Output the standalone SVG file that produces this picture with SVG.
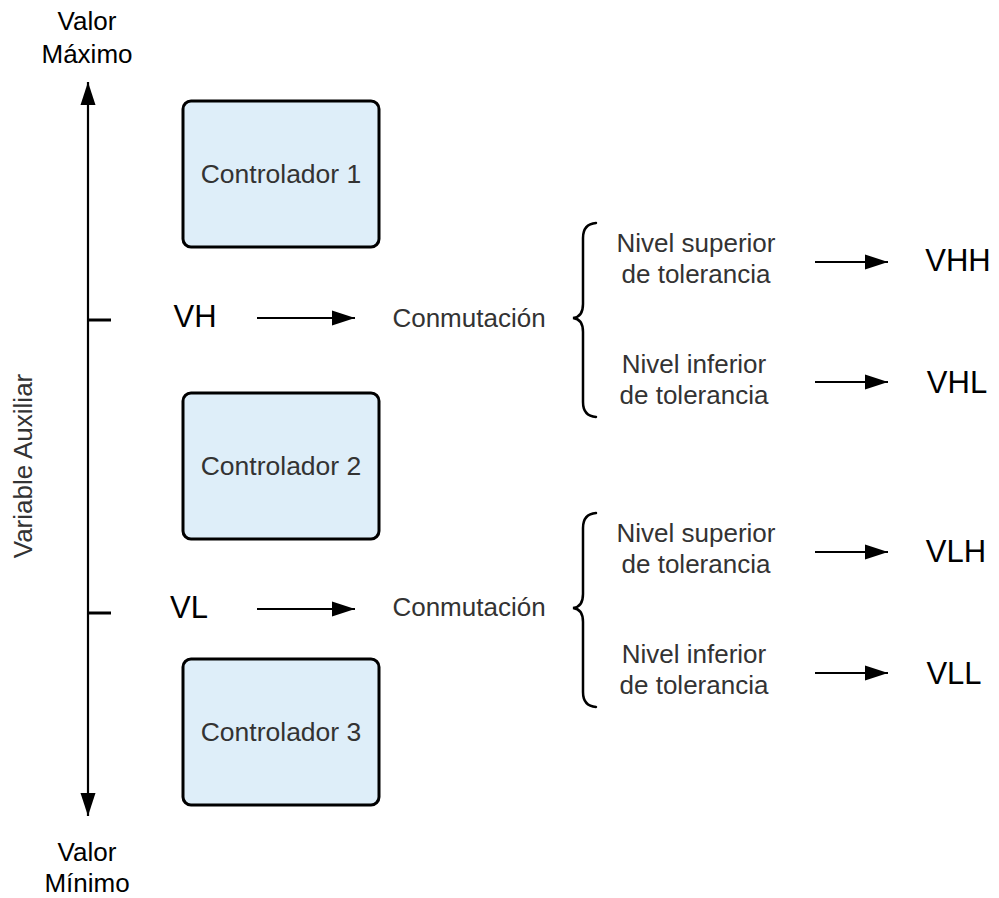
<svg xmlns="http://www.w3.org/2000/svg" width="999" height="898" viewBox="0 0 999 898">
  <style>
    text { font-family: "Liberation Sans", Arial, sans-serif; }
    .ctl { font-size: 26.5px; fill: #333333; text-anchor: middle; }
    .lbl { font-size: 26px; fill: #333333; text-anchor: middle; }
    .var { font-size: 31px; fill: #000000; text-anchor: middle; }
    .end { font-size: 26px; fill: #000000; text-anchor: middle; }
    .box { fill: #deeef9; stroke: #000000; stroke-width: 3; }
    .line { stroke: #000000; stroke-width: 2.2; fill: none; }
    .tick { stroke: #000000; stroke-width: 3; fill: none; }
    .brace { stroke: #000000; stroke-width: 2.5; fill: none; stroke-linecap: round; }
  </style>
  <defs>
    <marker id="head" markerUnits="userSpaceOnUse" markerWidth="23" markerHeight="16" refX="23" refY="8" orient="auto">
      <path d="M0,0.5 L23,8 L0,15.5 Z" fill="#000000"/>
    </marker>
  </defs>
  <rect width="999" height="898" fill="#ffffff"/>

  <!-- axis labels -->
  <g id="axis-labels">
    <text class="end" x="87" y="30">Valor</text>
    <text class="end" x="87" y="63">Máximo</text>
    <text class="end" x="87" y="861">Valor</text>
    <text class="end" x="87" y="892">Mínimo</text>
    <text class="lbl" font-size="27" transform="translate(32,466) rotate(-90)">Variable Auxiliar</text>
  </g>

  <!-- controllers -->
  <g id="controlador-1">
    <rect class="box" x="183" y="101" width="196" height="146" rx="8"/>
    <text class="ctl" x="281" y="183">Controlador 1</text>
  </g>
  <g id="controlador-2">
    <rect class="box" x="183" y="393" width="196" height="146" rx="8"/>
    <text class="ctl" x="281" y="475">Controlador 2</text>
  </g>
  <g id="controlador-3">
    <rect class="box" x="183" y="659" width="196" height="146" rx="8"/>
    <text class="ctl" x="281" y="741">Controlador 3</text>
  </g>

  <!-- switching points -->
  <g id="vh">
    <text class="var" x="195" y="327">VH</text>
  </g>
  <g id="vl">
    <text class="var" x="189" y="618">VL</text>
  </g>
  <g id="conmutacion-h">
    <text class="lbl" x="469" y="327">Conmutación</text>
  </g>
  <g id="conmutacion-l">
    <text class="lbl" x="469" y="616">Conmutación</text>
  </g>

  <!-- tolerance levels -->
  <g id="nivel-sup-h">
    <text class="lbl" x="696" y="252">Nivel superior</text>
    <text class="lbl" x="696" y="283">de tolerancia</text>
  </g>
  <g id="nivel-inf-h">
    <text class="lbl" x="694" y="373">Nivel inferior</text>
    <text class="lbl" x="694" y="404">de tolerancia</text>
  </g>
  <g id="nivel-sup-l">
    <text class="lbl" x="696" y="542">Nivel superior</text>
    <text class="lbl" x="696" y="573">de tolerancia</text>
  </g>
  <g id="nivel-inf-l">
    <text class="lbl" x="694" y="663">Nivel inferior</text>
    <text class="lbl" x="694" y="694">de tolerancia</text>
  </g>

  <!-- resulting values -->
  <g id="vhh"><text class="var" x="958" y="271">VHH</text></g>
  <g id="vhl"><text class="var" x="957" y="393">VHL</text></g>
  <g id="vlh"><text class="var" x="956" y="562">VLH</text></g>
  <g id="vll"><text class="var" x="954" y="684">VLL</text></g>

  <!-- connectors -->
  <g id="connectors">
    <!-- vertical axis, arrows at both ends -->
    <line class="line" x1="88" y1="450" x2="88" y2="82" marker-end="url(#head)"/>
    <line class="line" x1="88" y1="450" x2="88" y2="816" marker-end="url(#head)"/>
    <!-- ticks -->
    <line class="tick" x1="88" y1="320" x2="111" y2="320"/>
    <line class="tick" x1="88" y1="613" x2="111" y2="613"/>
    <!-- threshold to switching -->
    <line class="line" x1="257" y1="318" x2="355" y2="318" marker-end="url(#head)"/>
    <line class="line" x1="257" y1="609" x2="355" y2="609" marker-end="url(#head)"/>
    <!-- braces -->
    <path class="brace" d="M596,223 Q583,224 583,238 L583,304 Q583,317 573,318 Q583,319 583,332 L583,402 Q583,416 596,417"/>
    <path class="brace" d="M596,513 Q583,514 583,528 L583,594 Q583,607 573,608 Q583,609 583,622 L583,692 Q583,706 596,707"/>
    <!-- levels to values -->
    <line class="line" x1="815" y1="262" x2="888" y2="262" marker-end="url(#head)"/>
    <line class="line" x1="815" y1="382" x2="888" y2="382" marker-end="url(#head)"/>
    <line class="line" x1="815" y1="552" x2="888" y2="552" marker-end="url(#head)"/>
    <line class="line" x1="815" y1="673" x2="888" y2="673" marker-end="url(#head)"/>
  </g>
</svg>
